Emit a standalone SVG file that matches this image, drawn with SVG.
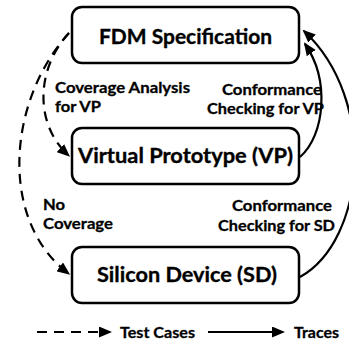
<svg xmlns="http://www.w3.org/2000/svg" width="349" height="345" viewBox="0 0 349 345">
  <style>
    .box { fill: #ffffff; stroke: #000000; stroke-width: 2.5; }
    .title { font-family: Lato, "Open Sans", "Liberation Sans", sans-serif; font-weight: 700; font-size: 21px; fill: #000000; stroke: #000000; stroke-width: 0.35; }
    .label { font-family: Lato, "Open Sans", "Liberation Sans", sans-serif; font-weight: 700; font-size: 16px; fill: #000000; stroke: #000000; stroke-width: 0.3; }
    .flow { fill: none; stroke: #000000; stroke-width: 2.2; }
    .dash { stroke-dasharray: 10 7; }
  </style>
  <defs>
    <marker id="head" viewBox="0 0 13 11" markerUnits="userSpaceOnUse" markerWidth="13" markerHeight="11" refX="11" refY="5.5" orient="auto">
      <path d="M0,0 L13,5.5 L0,11 Z" fill="#000000"/>
    </marker>
  </defs>

  <!-- nodes -->
  <g id="fdm-spec">
    <rect class="box" x="72" y="7" width="227" height="56" rx="10"/>
    <text class="title" x="99" y="44" textLength="173" lengthAdjust="spacingAndGlyphs">FDM Specification</text>
  </g>
  <g id="virtual-prototype">
    <rect class="box" x="72" y="128" width="227" height="56" rx="10"/>
    <text class="title" x="78" y="163" textLength="215" lengthAdjust="spacingAndGlyphs">Virtual Prototype (VP)</text>
  </g>
  <g id="silicon-device">
    <rect class="box" x="72" y="247" width="227" height="56" rx="10"/>
    <text class="title" x="97" y="282" textLength="180" lengthAdjust="spacingAndGlyphs">Silicon Device (SD)</text>
  </g>

  <!-- connectors -->
  <g id="connectors">
    <!-- test cases: specification to VP and SD -->
    <path class="flow dash" d="M69,33 C35,70 35,125 68.5,155.5" marker-end="url(#head)"/>
    <path class="flow dash" d="M69,33 C8,100 -2,220 68.5,273.5" marker-end="url(#head)"/>
    <!-- traces: VP and SD back to specification -->
    <path class="flow" d="M300,157 C325,135 330,80 305,44" marker-end="url(#head)"/>
    <path class="flow" d="M300,277 C366,240 378,100 304,31" marker-end="url(#head)"/>
  </g>

  <!-- edge labels -->
  <g id="edge-labels">
    <text class="label" x="55" y="93" textLength="135" lengthAdjust="spacingAndGlyphs">Coverage Analysis</text>
    <text class="label" x="55" y="112" textLength="46" lengthAdjust="spacingAndGlyphs">for VP</text>
    <text class="label" x="222" y="95" textLength="100" lengthAdjust="spacingAndGlyphs">Conformance</text>
    <text class="label" x="207" y="114" textLength="117" lengthAdjust="spacingAndGlyphs">Checking for VP</text>
    <text class="label" x="43" y="210" textLength="22" lengthAdjust="spacingAndGlyphs">No</text>
    <text class="label" x="43" y="229" textLength="70" lengthAdjust="spacingAndGlyphs">Coverage</text>
    <text class="label" x="232" y="211" textLength="100" lengthAdjust="spacingAndGlyphs">Conformance</text>
    <text class="label" x="218" y="231" textLength="117" lengthAdjust="spacingAndGlyphs">Checking for SD</text>
  </g>

  <!-- legend -->
  <g id="legend">
    <path class="flow dash" d="M37,332 L110,332" marker-end="url(#head)"/>
    <text class="label" x="120" y="338" textLength="75" lengthAdjust="spacingAndGlyphs">Test Cases</text>
    <path class="flow" d="M208,332 L283,332" marker-end="url(#head)"/>
    <text class="label" x="294" y="338" textLength="45" lengthAdjust="spacingAndGlyphs">Traces</text>
  </g>
</svg>
